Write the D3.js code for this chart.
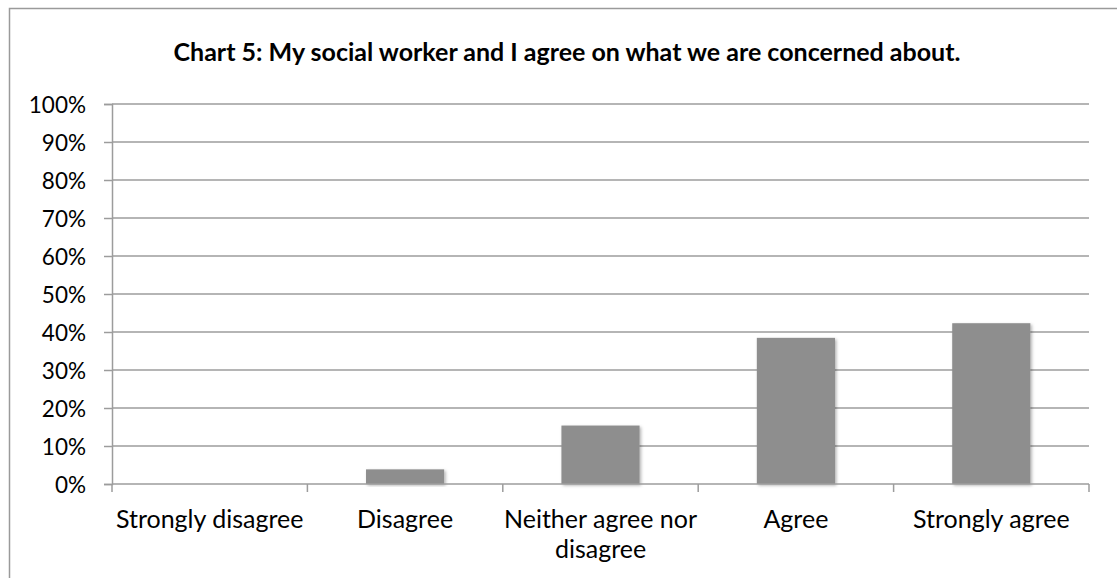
<!DOCTYPE html>
<html>
<head>
<meta charset="utf-8">
<script src="https://cdn.jsdelivr.net/npm/d3@7"></script>
<style>
  html, body { margin: 0; padding: 0; background: #fff; }
  svg { display: block; }
  text { font-family: Lato, "Open Sans", sans-serif; fill: #000; }
</style>
</head>
<body>
<svg id="chart" width="1117" height="578"></svg>
<script>
const title = "Chart 5: My social worker and I agree on what we are concerned about.";
const categories = ["Strongly disagree", "Disagree", "Neither agree nor disagree", "Agree", "Strongly agree"];
const values = [0, 0.0385, 0.1538, 0.3846, 0.4231];
const yTicks = [0, 0.1, 0.2, 0.3, 0.4, 0.5, 0.6, 0.7, 0.8, 0.9, 1.0];

const W = 1117, H = 578;
const margin = { left: 112, right: W - 1089, top: 104, bottom: H - 484 };
const svg = d3.select("#chart");

const defs = svg.append("defs");
const f = defs.append("filter").attr("id", "sh").attr("x", "-10%").attr("y", "-10%").attr("width", "130%").attr("height", "130%");
f.append("feDropShadow").attr("dx", 1.5).attr("dy", 1.5).attr("stdDeviation", 1.5)
  .attr("flood-color", "#000").attr("flood-opacity", 0.3);

// outer border
svg.append("rect").attr("x", 9.5).attr("y", 8.5).attr("width", 1130).attr("height", 600)
  .attr("fill", "#fff").attr("stroke", "#9a9a9a").attr("stroke-width", 1.5);

const x = d3.scaleBand().domain(categories).range([margin.left, W - margin.right]).paddingInner(0.6).paddingOuter(0.3);
const xEdge = d3.scaleLinear().domain([0, categories.length]).range([margin.left, W - margin.right]);
const y = d3.scaleLinear().domain([0, 1]).range([H - margin.bottom, margin.top]);

// gridlines
svg.append("g").selectAll("line").data(yTicks.filter(d => d > 0)).join("line")
  .attr("x1", margin.left).attr("x2", W - margin.right)
  .attr("y1", d => y(d)).attr("y2", d => y(d))
  .attr("stroke", "#9c9c9c").attr("stroke-width", 1.5);

// y axis
const yAxis = d3.axisLeft(y).tickValues(yTicks).tickFormat(d3.format(".0%")).tickSize(8).tickPadding(18);
const gy = svg.append("g").attr("transform", `translate(${margin.left},0)`).call(yAxis);
gy.select(".domain").attr("stroke", "#9c9c9c").attr("stroke-width", 1.5);
gy.selectAll(".tick line").attr("stroke", "#9c9c9c").attr("stroke-width", 1.5);
gy.selectAll(".tick text").attr("font-size", 22.5).attr("font-family", "Lato, sans-serif").attr("fill", "#000").attr("dy", "0.36em");

// bars
svg.append("g").selectAll("rect").data(values).join("rect")
  .attr("x", (d, i) => x(categories[i]))
  .attr("width", x.bandwidth())
  .attr("y", d => y(d))
  .attr("height", d => y(0) - y(d))
  .attr("fill", "#8e8e8e")
  .attr("filter", d => d > 0 ? "url(#sh)" : null);

// x axis
const gx = svg.append("g").attr("transform", `translate(0,${y(0)})`);
gx.append("line").attr("x1", margin.left).attr("x2", W - margin.right)
  .attr("stroke", "#9c9c9c").attr("stroke-width", 1.5);
gx.selectAll(".xt").data(d3.range(categories.length + 1)).join("line")
  .attr("x1", d => xEdge(d)).attr("x2", d => xEdge(d))
  .attr("y1", 0).attr("y2", 8)
  .attr("stroke", "#9c9c9c").attr("stroke-width", 1.5);

// x labels with wrapping
const maxW = xEdge(1) - xEdge(0);
categories.forEach((c, i) => {
  const cx = (xEdge(i) + xEdge(i + 1)) / 2;
  const t = gx.append("text").attr("text-anchor", "middle").attr("font-size", 25).attr("y", 44);
  const words = c.split(" ");
  let line = [];
  let tspan = t.append("tspan").attr("x", cx).attr("dy", 0);
  words.forEach(w => {
    line.push(w);
    tspan.text(line.join(" "));
    if (tspan.node().getComputedTextLength() > maxW && line.length > 1) {
      line.pop();
      tspan.text(line.join(" "));
      line = [w];
      tspan = t.append("tspan").attr("x", cx).attr("dy", 30).text(w);
    }
  });
});

// title
svg.append("text").attr("x", 567).attr("y", 61).attr("text-anchor", "middle")
  .attr("font-size", 25).attr("font-weight", "bold").text(title);
</script>
</body>
</html>
